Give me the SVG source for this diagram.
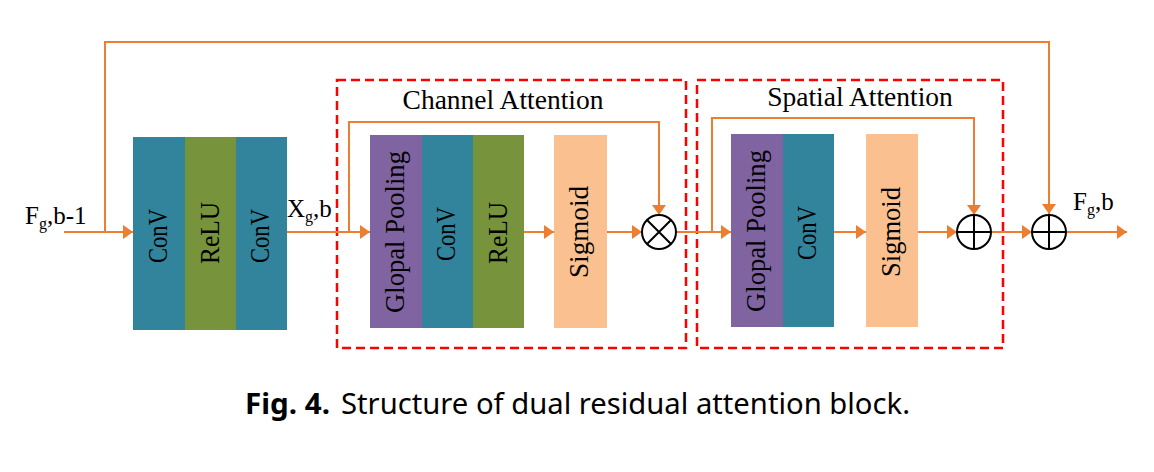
<svg xmlns="http://www.w3.org/2000/svg" width="1154" height="472" viewBox="0 0 1154 472">
<style>
.bg{fill:#ffffff}
.teal{fill:#31849B}
.green{fill:#77933C}
.purple{fill:#8064A2}
.peach{fill:#FAC090}
.lbl{font-family:"Liberation Serif","Times New Roman",serif;font-size:27px;fill:#000;text-anchor:middle}
.ttl{font-family:"Liberation Serif","Times New Roman",serif;font-size:27.5px;fill:#000;text-anchor:middle}
.var{font-family:"Liberation Serif","Times New Roman",serif;font-size:25px;fill:#000}
.sub{font-size:16px}
.dash{fill:none;stroke:#FF0000;stroke-width:2.5;stroke-dasharray:9 5}
.conn{fill:none;stroke:#ED7D31;stroke-width:2}
.arr{marker-end:url(#ah)}
.op{fill:#ffffff;stroke:#000;stroke-width:2}
.opl{stroke:#000;stroke-width:2}
.cap{font-family:"Noto Sans","Liberation Sans",sans-serif;font-size:28.5px;fill:#000}
</style>
<defs>
<marker id="ah" markerUnits="userSpaceOnUse" markerWidth="11" markerHeight="14" refX="10" refY="7" orient="auto">
<path d="M0,0 L10,7 L0,14 z" fill="#ED7D31"/>
</marker>
</defs>
<rect class="bg" x="0" y="0" width="1154" height="472"/>

<g id="ca-frame">
<rect class="dash" x="337" y="80" width="349" height="268"/>
<text class="ttl" x="503" y="109">Channel Attention</text>
</g>
<g id="sa-frame">
<rect class="dash" x="697" y="80" width="306" height="268"/>
<text class="ttl" x="860" y="106">Spatial Attention</text>
</g>

<g id="connectors">
<path class="conn arr" d="M64 232 H133"/>
<path class="conn arr" d="M105 232 V42 H1049 V214"/>
<path class="conn arr" d="M287 232 H370"/>
<path class="conn arr" d="M349 232 V122 H659 V215"/>
<path class="conn arr" d="M524 232 H554"/>
<path class="conn arr" d="M607 232 H642"/>
<path class="conn arr" d="M676 232 H731"/>
<path class="conn arr" d="M712 232 V118 H974 V215"/>
<path class="conn arr" d="M834 232 H866"/>
<path class="conn arr" d="M918 232 H957"/>
<path class="conn arr" d="M991 232 H1032"/>
<path class="conn arr" d="M1066 232 H1127"/>
</g>

<g id="label-in">
<text class="var" x="25" y="224">F<tspan class="sub" dy="5">g</tspan><tspan dy="-5">,b-1</tspan></text>
</g>
<g id="label-x">
<text class="var" x="287" y="217">X<tspan class="sub" dy="5">g</tspan><tspan dy="-5">,b</tspan></text>
</g>
<g id="label-out">
<text class="var" x="1073" y="210">F<tspan class="sub" dy="5">g</tspan><tspan dy="-5">,b</tspan></text>
</g>

<g id="block1">
<rect class="teal" x="133" y="137" width="52" height="193"/>
<rect class="green" x="185" y="137" width="51" height="193"/>
<rect class="teal" x="236" y="137" width="51" height="193"/>
<text class="lbl" transform="translate(159,236) rotate(-90)" x="0" y="8" textLength="54" lengthAdjust="spacingAndGlyphs">ConV</text>
<text class="lbl" transform="translate(210,233) rotate(-90)" x="0" y="9" textLength="62" lengthAdjust="spacingAndGlyphs">ReLU</text>
<text class="lbl" transform="translate(261,236) rotate(-90)" x="0" y="8" textLength="54" lengthAdjust="spacingAndGlyphs">ConV</text>
</g>

<g id="ca-gp">
<rect class="purple" x="370" y="135" width="52" height="193"/>
<text class="lbl" transform="translate(396,232) rotate(-90)" x="0" y="8" textLength="162" lengthAdjust="spacingAndGlyphs">Glopal Pooling</text>
</g>
<g id="ca-conv">
<rect class="teal" x="422" y="135" width="51" height="193"/>
<text class="lbl" transform="translate(447,234) rotate(-90)" x="0" y="8" textLength="54" lengthAdjust="spacingAndGlyphs">ConV</text>
</g>
<g id="ca-relu">
<rect class="green" x="473" y="135" width="51" height="193"/>
<text class="lbl" transform="translate(498,233) rotate(-90)" x="0" y="9" textLength="62" lengthAdjust="spacingAndGlyphs">ReLU</text>
</g>
<g id="ca-sig">
<rect class="peach" x="554" y="135" width="53" height="193"/>
<text class="lbl" transform="translate(580,232) rotate(-90)" x="0" y="8" textLength="92" lengthAdjust="spacingAndGlyphs">Sigmoid</text>
</g>
<g id="ca-mul">
<circle class="op" cx="659" cy="232" r="17"/>
<path class="opl" d="M647 220 L671 244 M671 220 L647 244"/>
</g>

<g id="sa-gp">
<rect class="purple" x="731" y="134" width="52" height="193"/>
<text class="lbl" transform="translate(757,231) rotate(-90)" x="0" y="8" textLength="162" lengthAdjust="spacingAndGlyphs">Glopal Pooling</text>
</g>
<g id="sa-conv">
<rect class="teal" x="783" y="134" width="51" height="193"/>
<text class="lbl" transform="translate(808,233) rotate(-90)" x="0" y="8" textLength="54" lengthAdjust="spacingAndGlyphs">ConV</text>
</g>
<g id="sa-sig">
<rect class="peach" x="866" y="134" width="52" height="193"/>
<text class="lbl" transform="translate(892,232) rotate(-90)" x="0" y="8" textLength="90" lengthAdjust="spacingAndGlyphs">Sigmoid</text>
</g>
<g id="sa-add">
<circle class="op" cx="974" cy="232" r="17"/>
<path class="opl" d="M957 232 H991 M974 215 V249"/>
</g>
<g id="res-add">
<circle class="op" cx="1049" cy="232" r="17"/>
<path class="opl" d="M1032 232 H1066 M1049 215 V249"/>
</g>

<g id="caption">
<text class="cap" x="245" y="414" font-weight="bold" textLength="85" lengthAdjust="spacingAndGlyphs">Fig. 4.</text>
<text class="cap" x="341" y="414" textLength="569" lengthAdjust="spacingAndGlyphs">Structure of dual residual attention block.</text>
</g>
</svg>
